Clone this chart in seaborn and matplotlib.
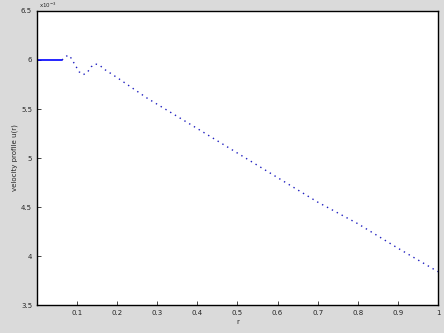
import numpy as np
import pandas as pd
import matplotlib
matplotlib.use("Agg")
import matplotlib.pyplot as plt
import seaborn as sns

# solid start segment
r_flat = [0.0, 0.0625]
v_flat = [6.0, 6.0]

# dotted part (values x 1e-3)
r_dot = [0.0625, 0.07, 0.078, 0.085, 0.095, 0.105, 0.115, 0.125, 0.135, 0.145,
         0.155, 0.17, 0.2, 0.275, 0.4, 0.5, 0.6, 0.7, 0.8, 0.9, 1.0]
v_dot = [6.0, 6.03, 6.05, 6.02, 5.95, 5.88, 5.85, 5.87, 5.93, 5.96,
         5.95, 5.90, 5.82, 5.61, 5.30, 5.05, 4.80, 4.55, 4.33, 4.08, 3.84]

x_ticks = [0.1, 0.2, 0.3, 0.4, 0.5, 0.6, 0.7, 0.8, 0.9, 1.0]
y_ticks = [3.5, 4, 4.5, 5, 5.5, 6, 6.5]

sns.set_style("ticks")
plt.rcParams['font.family'] = ['DejaVu Sans']

fig = plt.figure(figsize=(4.44, 3.33), dpi=100)
fig.patch.set_facecolor("#dadada")
ax = fig.add_axes([0.0833, 0.084, 0.9032, 0.883])
ax.set_facecolor("white")

df_flat = pd.DataFrame({"r": r_flat, "v": v_flat})
df_dot = pd.DataFrame({"r": r_dot, "v": v_dot})
sns.lineplot(data=df_flat, x="r", y="v", ax=ax, color="#0000ff", linewidth=1.2)
sns.lineplot(data=df_dot, x="r", y="v", ax=ax, color="#2020c0", linewidth=1.0,
             linestyle=(0, (1, 3)))

ax.set_xlim(0, 1)
ax.set_ylim(3.5, 6.5)
ax.set_xticks(x_ticks)
ax.set_yticks(y_ticks)
ax.set_xticklabels([f"{t:g}" for t in x_ticks])
ax.set_yticklabels([f"{t:g}" for t in y_ticks])
ax.tick_params(direction="in", length=3, labelsize=5, width=0.6)
for s in ax.spines.values():
    s.set_linewidth(1.0)
    s.set_color("black")
ax.set_xlabel("r", fontsize=5, labelpad=2)
ax.set_ylabel("velocity profile u(r)", fontsize=5, labelpad=2)
ax.text(0.005, 1.003, "x10$^{-3}$", transform=ax.transAxes, fontsize=4,
        ha="left", va="bottom")

fig.savefig("out.png", dpi=100, facecolor=fig.get_facecolor())
